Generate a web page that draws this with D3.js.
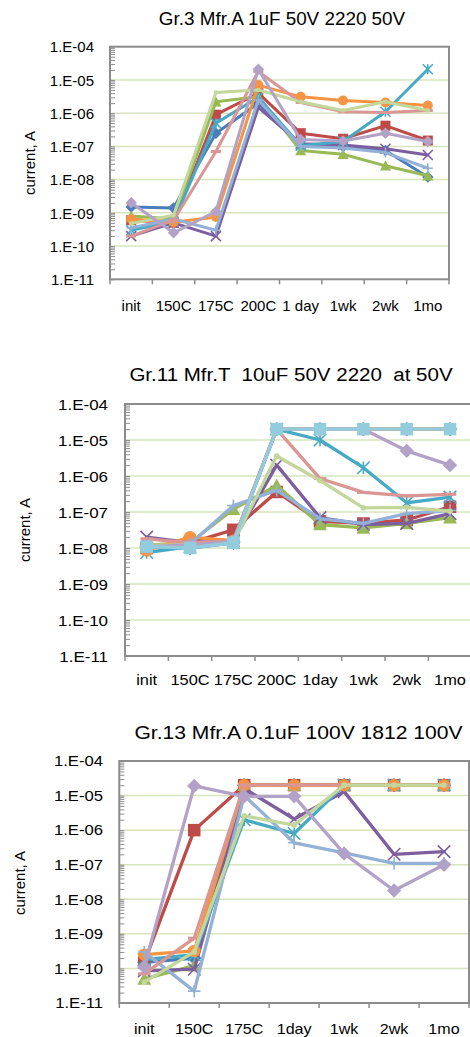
<!DOCTYPE html>
<html><head><meta charset="utf-8">
<script src="https://cdn.jsdelivr.net/npm/d3@7"></script>
<style>
html,body{margin:0;padding:0;background:#fff;}
svg{display:block;font-family:"Liberation Sans",Arial,sans-serif;}
</style></head>
<body>
<script>
// ---------- DATA ----------
const yTickValues = [1e-4,1e-5,1e-6,1e-7,1e-8,1e-9,1e-10,1e-11];
const yTickLabels = ["1.E-04","1.E-05","1.E-06","1.E-07","1.E-08","1.E-09","1.E-10","1.E-11"];
const yAxisTitle = "current, A";

const title1 = "Gr.3 Mfr.A 1uF 50V 2220 50V";
const cats1 = ["init","150C","175C","200C","1 day","1wk","2wk","1mo"];
const p1s1  = [1.5e-9,1.4e-9,2.5e-7,2.0e-6,1.1e-7,1.0e-7,7.5e-8,1.2e-8];
const p1s2  = [6e-10,5e-10,9e-7,4e-6,2.5e-7,1.7e-7,4.2e-7,1.5e-7];
const p1s3  = [8e-10,6.5e-10,2.2e-6,3.1e-6,7.5e-8,5.8e-8,2.6e-8,1.3e-8];
const p1s4  = [2e-10,5e-10,2e-10,1.5e-6,1.2e-7,1.1e-7,8.5e-8,5.5e-8];
const p1s5  = [3e-10,5.5e-10,5e-7,3e-6,1.05e-7,1.4e-7,1.1e-6,2.1e-5];
const p1s6  = [6.5e-10,5.2e-10,7.5e-10,7e-6,3.1e-6,2.4e-6,2.1e-6,1.7e-6];
const p1s7  = [3.5e-10,6.5e-10,3e-10,2.5e-6,1.0e-7,9e-8,6.5e-8,2.2e-8];
const p1s8  = [2e-10,6e-10,7e-8,1.8e-5,2.1e-6,1.1e-6,1.05e-6,1.2e-6];
const p1s9  = [4.8e-10,8.5e-10,4.2e-6,5e-6,2.2e-6,1.2e-6,2.2e-6,1.2e-6];
const p1s10 = [2e-9,2.5e-10,1.1e-9,2.1e-5,1.6e-7,1.45e-7,2.5e-7,1.4e-7];

const title2 = "Gr.11 Mfr.T  10uF 50V 2220  at 50V";
const cats2 = ["init","150C","175C","200C","1day","1wk","2wk","1mo"];
const p2s1  = [1.1e-8,1e-8,1.4e-8,2e-5,2e-5,2e-5,2e-5,2e-5];
const p2s2  = [1e-8,1.4e-8,3.2e-8,3.6e-7,5.5e-8,4.8e-8,6e-8,1.4e-7];
const p2s3  = [1.2e-8,1.4e-8,1.2e-7,5.5e-7,4.5e-8,3.6e-8,4.8e-8,7e-8];
const p2s4  = [2e-8,1.4e-8,1.6e-8,2e-6,7e-8,4.5e-8,4.8e-8,9e-8];
const p2s5  = [7.5e-9,1.1e-8,1.4e-8,2e-5,1e-5,1.7e-6,1.8e-7,2.6e-7];
const p2s6  = [8.5e-9,2e-8,1.6e-8,2e-5,2e-5,2e-5,2e-5,2e-5];
const p2s7  = [1e-8,1.3e-8,1.5e-7,4e-7,6.5e-8,4.8e-8,9e-8,1.1e-7];
const p2s8  = [1.8e-8,1.4e-8,1.6e-8,2e-5,8.5e-7,3.5e-7,2.8e-7,3.1e-7];
const p2s9  = [1.2e-8,1.2e-8,1.4e-8,3.6e-6,7.5e-7,1.3e-7,1.35e-7,1.05e-7];
const p2s10 = [1.1e-8,1.2e-8,1.5e-8,2e-5,2e-5,2e-5,5e-6,2e-6];
const p2s11 = [1.1e-8,1e-8,1.4e-8,2e-5,2e-5,2e-5,2e-5,2e-5];

const title3 = "Gr.13 Mfr.A 0.1uF 100V 1812 100V";
const cats3 = ["init","150C","175C","1day","1wk","2wk","1mo"];
const p3s1  = [1.5e-10,2e-10,2e-5,2e-5,2e-5,2e-5,2e-5];
const p3s2  = [1.5e-10,1e-6,2e-5,2e-5,2e-5,2e-5,2e-5];
const p3s3  = [5e-11,1.2e-10,2e-5,2e-5,2e-5,2e-5,2e-5];
const p3s4  = [8.5e-11,9.5e-11,1.6e-5,2.1e-6,1.3e-5,2e-7,2.4e-7];
const p3s5  = [1.8e-10,2.5e-10,2e-6,8e-7,2e-5,2e-5,2e-5];
const p3s6  = [2.5e-10,3.2e-10,2e-5,2e-5,2e-5,2e-5,2e-5];
const p3s7  = [3e-10,2.2e-11,1e-5,4.3e-7,2.2e-7,1.1e-7,1.1e-7];
const p3s8  = [7e-11,7.5e-10,2e-5,2e-5,2e-5,2e-5,2e-5];
const p3s9  = [4e-11,3e-10,2.6e-6,1.4e-6,2e-5,2e-5,2e-5];
const p3s10 = [1.1e-10,1.9e-5,9.5e-6,9.5e-6,2.1e-7,1.8e-8,1e-7];

// ---------- STYLE ----------
const colors  = ["#4A7DBA","#BE4B48","#98B954","#7D5FA0","#46AAC5","#F59443","#93B1D6","#D99694","#C3D69B","#B3A2C7","#93CDDD"];
const markers = ["diamond","square","triangle","x","star","circle","plus","dash","dot","diamond","square"];

const panels = [
  {title:title1, cats:cats1, series:[p1s1,p1s2,p1s3,p1s4,p1s5,p1s6,p1s7,p1s8,p1s9,p1s10],
   box:{l:110,r:449,t:46.7,b:279.3}, tX:282, tY:25, tFs:18.5, tSx:1.02,
   kFs:15, kSx:1.0, kR:94, xFs:15, xSx:1.0, xY:311, aX:30, aY:163, ms:10, lw:3},
  {title:title2, cats:cats2, series:[p2s1,p2s2,p2s3,p2s4,p2s5,p2s6,p2s7,p2s8,p2s9,p2s10,p2s11],
   box:{l:125,r:471.7,t:404,b:656}, tX:291, tY:380.7, tFs:18.5, tSx:1.11,
   kFs:14.5, kSx:1.17, kR:108, xFs:14.5, xSx:1.13, xY:685, aX:25, aY:530, ms:12.5, lw:3.3},
  {title:title3, cats:cats3, series:[p3s1,p3s2,p3s3,p3s4,p3s5,p3s6,p3s7,p3s8,p3s9,p3s10],
   box:{l:119.3,r:469,t:761,b:1003}, tX:298.5, tY:739.3, tFs:18.5, tSx:1.14,
   kFs:14, kSx:1.19, kR:103, xFs:14, xSx:1.15, xY:1034, aX:20, aY:883, ms:12.5, lw:3.3}
];

const svg = d3.select("body").append("svg").attr("width",470).attr("height",1037);
svg.append("rect").attr("width",470).attr("height",1037).attr("fill","#fff");

function txt(g,x,y,s,fs,sx,anchor){
  return g.append("text").attr("transform",`translate(${x},${y}) scale(${sx},1)`)
    .attr("text-anchor",anchor).attr("font-size",fs).attr("fill","#000")
    .style("white-space","pre").text(s);
}

function drawMarker(g,type,x,y,c,ms){
  const h = ms/2;
  if(type==="diamond"){
    const s=h*1.15;
    g.append("path").attr("d",`M${x},${y-s}L${x+s},${y}L${x},${y+s}L${x-s},${y}Z`).attr("fill",c);
  } else if(type==="square"){
    g.append("rect").attr("x",x-h).attr("y",y-h).attr("width",ms).attr("height",ms).attr("fill",c);
  } else if(type==="triangle"){
    const s=h*1.1;
    g.append("path").attr("d",`M${x},${y-s}L${x+s},${y+s*0.85}L${x-s},${y+s*0.85}Z`).attr("fill",c);
  } else if(type==="circle"){
    g.append("circle").attr("cx",x).attr("cy",y).attr("r",h).attr("fill",c);
  } else if(type==="dot"){
    g.append("circle").attr("cx",x).attr("cy",y).attr("r",h*0.45).attr("fill",c);
  } else if(type==="dash"){
    g.append("rect").attr("x",x-h).attr("y",y-1.5).attr("width",ms).attr("height",3).attr("fill",c);
  } else {
    let d="";
    if(type==="x"||type==="star") d+=`M${x-h},${y-h}L${x+h},${y+h}M${x-h},${y+h}L${x+h},${y-h}`;
    if(type==="star") d+=`M${x},${y-h}L${x},${y+h}`;
    if(type==="plus") d+=`M${x-h},${y}L${x+h},${y}M${x},${y-h}L${x},${y+h}`;
    g.append("path").attr("d",d).attr("stroke",c).attr("stroke-width",1.6).attr("fill","none");
  }
}

panels.forEach(p=>{
  const g = svg.append("g");
  const B = p.box;
  const x = d3.scaleBand().domain(p.cats).range([B.l,B.r]).padding(0);
  const y = d3.scaleLog().domain([1e-11,1e-4]).range([B.b,B.t]);
  const cx = c => x(c)+x.bandwidth()/2;

  // gridlines
  g.append("g").selectAll("line").data(yTickValues.slice(1,-1)).join("line")
    .attr("x1",B.l).attr("x2",B.r).attr("y1",d=>y(d)).attr("y2",d=>y(d))
    .attr("stroke","#D7E4BD").attr("stroke-width",1.5);

  // minor + major y ticks through d3 axis
  const minor=[];
  for(let e=-11;e<-4;e++) for(let k=1;k<10;k++) minor.push(k*Math.pow(10,e));
  minor.push(1e-4);
  const ya = g.append("g").attr("transform",`translate(${B.l+5},0)`)
    .call(d3.axisLeft(y).tickValues(minor).tickSize(5).tickFormat(""));
  ya.select(".domain").remove();
  ya.selectAll("line").attr("stroke","#8C8C8C").attr("stroke-width",1);

  // x ticks at category boundaries
  const bounds = p.cats.map(c=>x(c)).concat([B.r]);
  g.append("g").selectAll("line").data(bounds).join("line")
    .attr("x1",d=>d).attr("x2",d=>d).attr("y1",B.b).attr("y2",B.b+5)
    .attr("stroke","#8C8C8C").attr("stroke-width",1.5);

  // frame
  g.append("rect").attr("x",B.l).attr("y",B.t).attr("width",B.r-B.l).attr("height",B.b-B.t)
    .attr("fill","none").attr("stroke","#8C8C8C").attr("stroke-width",2);

  // series
  const line = d3.line().x((d,i)=>cx(p.cats[i])).y(d=>y(d)).curve(d3.curveLinear);
  p.series.forEach((s,si)=>{
    const sg = g.append("g");
    sg.append("path").attr("d",line(s)).attr("fill","none").attr("stroke",colors[si])
      .attr("stroke-width",p.lw).attr("stroke-linejoin","round").attr("stroke-linecap","round");
    s.forEach((v,i)=>drawMarker(sg,markers[si],cx(p.cats[i]),y(v),colors[si],p.ms));
  });

  // y tick labels
  yTickValues.forEach((v,i)=>txt(g,p.kR,y(v)+p.kFs*0.38,yTickLabels[i],p.kFs,p.kSx,"end"));
  // x labels
  p.cats.forEach(c=>txt(g,cx(c),p.xY,c,p.xFs,p.xSx,"middle"));
  // title
  txt(g,p.tX,p.tY,p.title,p.tFs,p.tSx,"middle");
  // axis title
  g.append("text").attr("transform",`translate(${p.aX+5},${p.aY}) rotate(-90)`)
    .attr("text-anchor","middle").attr("font-size",15).attr("fill","#000").text(yAxisTitle);
});
</script>
</body></html>
